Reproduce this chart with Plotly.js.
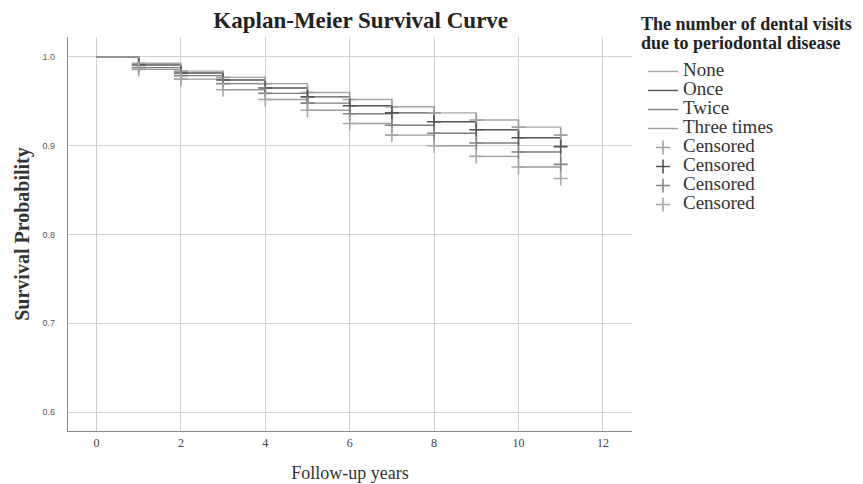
<!DOCTYPE html>
<html>
<head>
<meta charset="utf-8">
<script src="https://cdn.plot.ly/plotly-3.0.1.min.js"></script>
<style>html,body{margin:0;padding:0;background:#fff;}#chart{width:863px;height:484px;}</style>
</head>
<body>
<div id="chart"></div>
<script>
// Data
const groups = ["None", "Once", "Twice", "Three times"];
const years = [0, 1, 2, 3, 4, 5, 6, 7, 8, 9, 10, 11];
const censorYears = [1, 2, 3, 4, 5, 6, 7, 8, 9, 10, 11];
const survNone = [1.0, 0.993, 0.984, 0.977, 0.970, 0.960, 0.952, 0.944, 0.937, 0.929, 0.921, 0.912];
const survOnce = [1.0, 0.991, 0.982, 0.974, 0.965, 0.955, 0.945, 0.937, 0.927, 0.918, 0.909, 0.899];
const survTwice = [1.0, 0.988, 0.979, 0.970, 0.959, 0.948, 0.936, 0.923, 0.914, 0.903, 0.893, 0.879];
const survThree = [1.0, 0.986, 0.975, 0.963, 0.952, 0.940, 0.925, 0.912, 0.900, 0.888, 0.876, 0.863];
const xTicks = [0, 2, 4, 6, 8, 10, 12];
const yTicks = [0.6, 0.7, 0.8, 0.9, 1.0];
const legendTitleLines = ["The number of dental visits", "due to periodontal disease"];

const series = [survNone, survOnce, survTwice, survThree];
const lineColors = ["#a6a6a6", "#555555", "#7f7f7f", "#9c9c9c"];
const markColors = ["#a0a0a0", "#555555", "#858585", "#a8a8a8"];
const big = t => '<span style="font-size:19px">' + t + '</span>';

const traces = [];
series.forEach((s, i) => {
  traces.push({
    x: years, y: s, name: big(groups[i]), type: "scatter", mode: "lines",
    line: {shape: "hv", color: lineColors[i], width: 1.4}
  });
});
series.forEach((s, i) => {
  traces.push({
    x: censorYears, y: s.slice(1), name: big("Censored"), type: "scatter", mode: "markers",
    marker: {symbol: "cross-thin", size: 10, line: {color: markColors[i], width: 1.6}, color: markColors[i]}
  });
});

const serif = "Liberation Serif, Times New Roman, serif";
const annotations = legendTitleLines.map((t, i) => ({
  text: "<b>" + t + "</b>", xref: "paper", yref: "paper", showarrow: false,
  x: (639 - 68) / 564, xanchor: "left",
  y: (431 - (24 + 18.5 * i)) / 394, yanchor: "middle",
  font: {family: serif, size: 18, color: "#222"}
}));

const layout = {
  width: 863, height: 484,
  margin: {l: 68, r: 231, t: 37, b: 53, autoexpand: false},
  paper_bgcolor: "#fff", plot_bgcolor: "#fff",
  title: {text: "<b>Kaplan-Meier Survival Curve</b>", font: {family: serif, size: 23, color: "#222"},
          x: 0.418, xanchor: "center", y: 0.958, yanchor: "middle"},
  xaxis: {
    range: [-0.675, 12.69], tickvals: xTicks, ticktext: xTicks.map(String),
    showgrid: true, gridcolor: "#cfcfcf", gridwidth: 1, zeroline: false,
    showline: true, linecolor: "#8a8a8a", linewidth: 1.2, ticks: "",
    tickfont: {family: serif, size: 12, color: "#444"},
    title: {text: "Follow-up years", font: {family: serif, size: 18, color: "#333"}, standoff: 17}
  },
  yaxis: {
    range: [0.5786, 1.0225], tickvals: yTicks, ticktext: yTicks.map(v => v.toFixed(1)),
    showgrid: true, gridcolor: "#cfcfcf", gridwidth: 1, zeroline: false,
    showline: true, linecolor: "#8a8a8a", linewidth: 1.2, ticks: "",
    ticklabelstandoff: 10,
    tickfont: {family: "Liberation Sans, Arial, sans-serif", size: 9, color: "#555"},
    title: {text: "<b>Survival Probability</b>", font: {family: serif, size: 20, color: "#333"}, standoff: 7}
  },
  annotations: annotations,
  showlegend: true,
  legend: {
    x: (643 - 68) / 564, xanchor: "left", y: (431 - 57) / 394, yanchor: "top",
    font: {family: serif, size: 11, color: "#333"},
    tracegroupgap: 0, itemwidth: 30, bgcolor: "rgba(0,0,0,0)"
  }
};

Plotly.newPlot("chart", traces, layout, {displayModeBar: false, staticPlot: true});
</script>
</body>
</html>
